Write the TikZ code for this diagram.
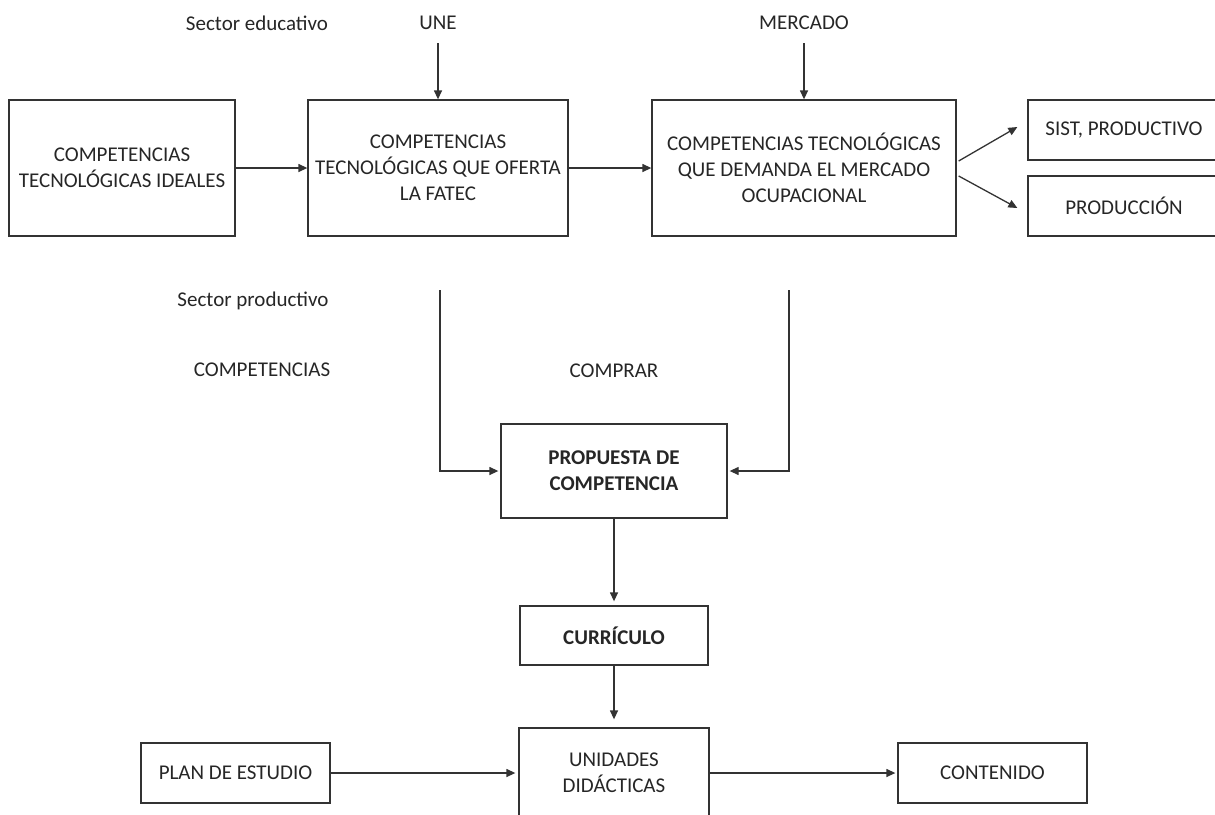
\documentclass[tikz,border=0pt]{standalone}
\usepackage{fontspec}
\setmainfont{Carlito}
\usetikzlibrary{arrows.meta,calc}

\begin{document}
\begin{tikzpicture}[x=0.5pt,y=-0.5pt,
    every node/.style={font=\fontsize{10.5}{13}\selectfont, text=black!85},
    caja/.style={draw=black!80, line width=0.65pt, align=center, inner sep=2pt},
    negrita/.style={font=\fontsize{10.5}{13}\selectfont\bfseries},
    flecha/.style={draw=black!80, line width=0.65pt, -{Triangle[length=4.5pt,width=4pt]}},
    linea/.style={draw=black!80, line width=0.65pt}]
      \clip (0,0) rectangle (1215,814);
      %fila superior
      \node[caja, minimum width=113pt, minimum height=68pt] (ideal) at (122,168) {COMPETENCIAS\\TECNOLÓGICAS IDEALES};
      \node[caja, minimum width=130pt, minimum height=68pt] (oferta) at (438,168) {COMPETENCIAS\\TECNOLÓGICAS QUE OFERTA\\LA FATEC};
      \node[caja, minimum width=152pt, minimum height=68pt] (demanda) at (804,168) {COMPETENCIAS TECNOLÓGICAS\\QUE DEMANDA EL MERCADO\\OCUPACIONAL};
      \node[caja, minimum width=96pt, minimum height=30pt] (sist) at (1124,130) {SIST, PRODUCTIVO};
      \node[caja, minimum width=96pt, minimum height=30pt] (produccion) at (1124,206) {PRODUCCIÓN};
      %textos
      \node (educativo) at (257,23) {Sector educativo};
      \node (une) at (438,23) {UNE};
      \node (mercado) at (804,23) {MERCADO};
      \node (productivo) at (253,301) {Sector productivo};
      \node (competencias) at (262,370) {COMPETENCIAS};
      \node (comprar) at (614,371) {COMPRAR};
      %centro y abajo
      \node[caja, negrita, minimum width=113pt, minimum height=47pt] (propuesta) at (614,471) {PROPUESTA DE\\COMPETENCIA};
      \node[caja, negrita, minimum width=94pt, minimum height=29.5pt] (curriculo) at (614,635.5) {CURRÍCULO};
      \node[caja, minimum width=95pt, minimum height=45pt] (unidades) at (614,773) {UNIDADES\\DIDÁCTICAS};
      \node[caja, minimum width=94.5pt, minimum height=30pt] (plan) at (235.5,773) {PLAN DE ESTUDIO};
      \node[caja, minimum width=94.5pt, minimum height=30pt] (contenido) at (992.5,773) {CONTENIDO};
      \coordinate (une0) at (438,43);
      \coordinate (mercado0) at (804,43);
      \coordinate (fatec0) at (440,290);
      \coordinate (ocupa0) at (789,290);
      %flechas
      \draw[flecha] (une0) -- (oferta.north);
      \draw[flecha] (mercado0) -- (demanda.north);
      \draw[flecha] (ideal) -- (oferta);
      \draw[flecha] (oferta) -- (demanda);
      \draw[flecha] ($(demanda.east)+(2,-7)$) -- ($(sist.west)+(-10,-3)$);
      \draw[flecha] ($(demanda.east)+(2,8)$) -- ($(produccion.west)+(-10,2)$);
      \draw[flecha, shorten >=1pt] (fatec0) |- (propuesta.west);
      \draw[flecha, shorten >=1pt] (ocupa0) |- (propuesta.east);
      \draw[flecha, shorten >=2pt] (propuesta) -- (curriculo);
      \draw[flecha, shorten >=4pt] (curriculo) -- (unidades);
      \draw[flecha, shorten >=1.5pt] (plan) -- (unidades);
      \draw[flecha, shorten >=1pt] (unidades) -- (contenido);
    \end{tikzpicture}
\end{document}
